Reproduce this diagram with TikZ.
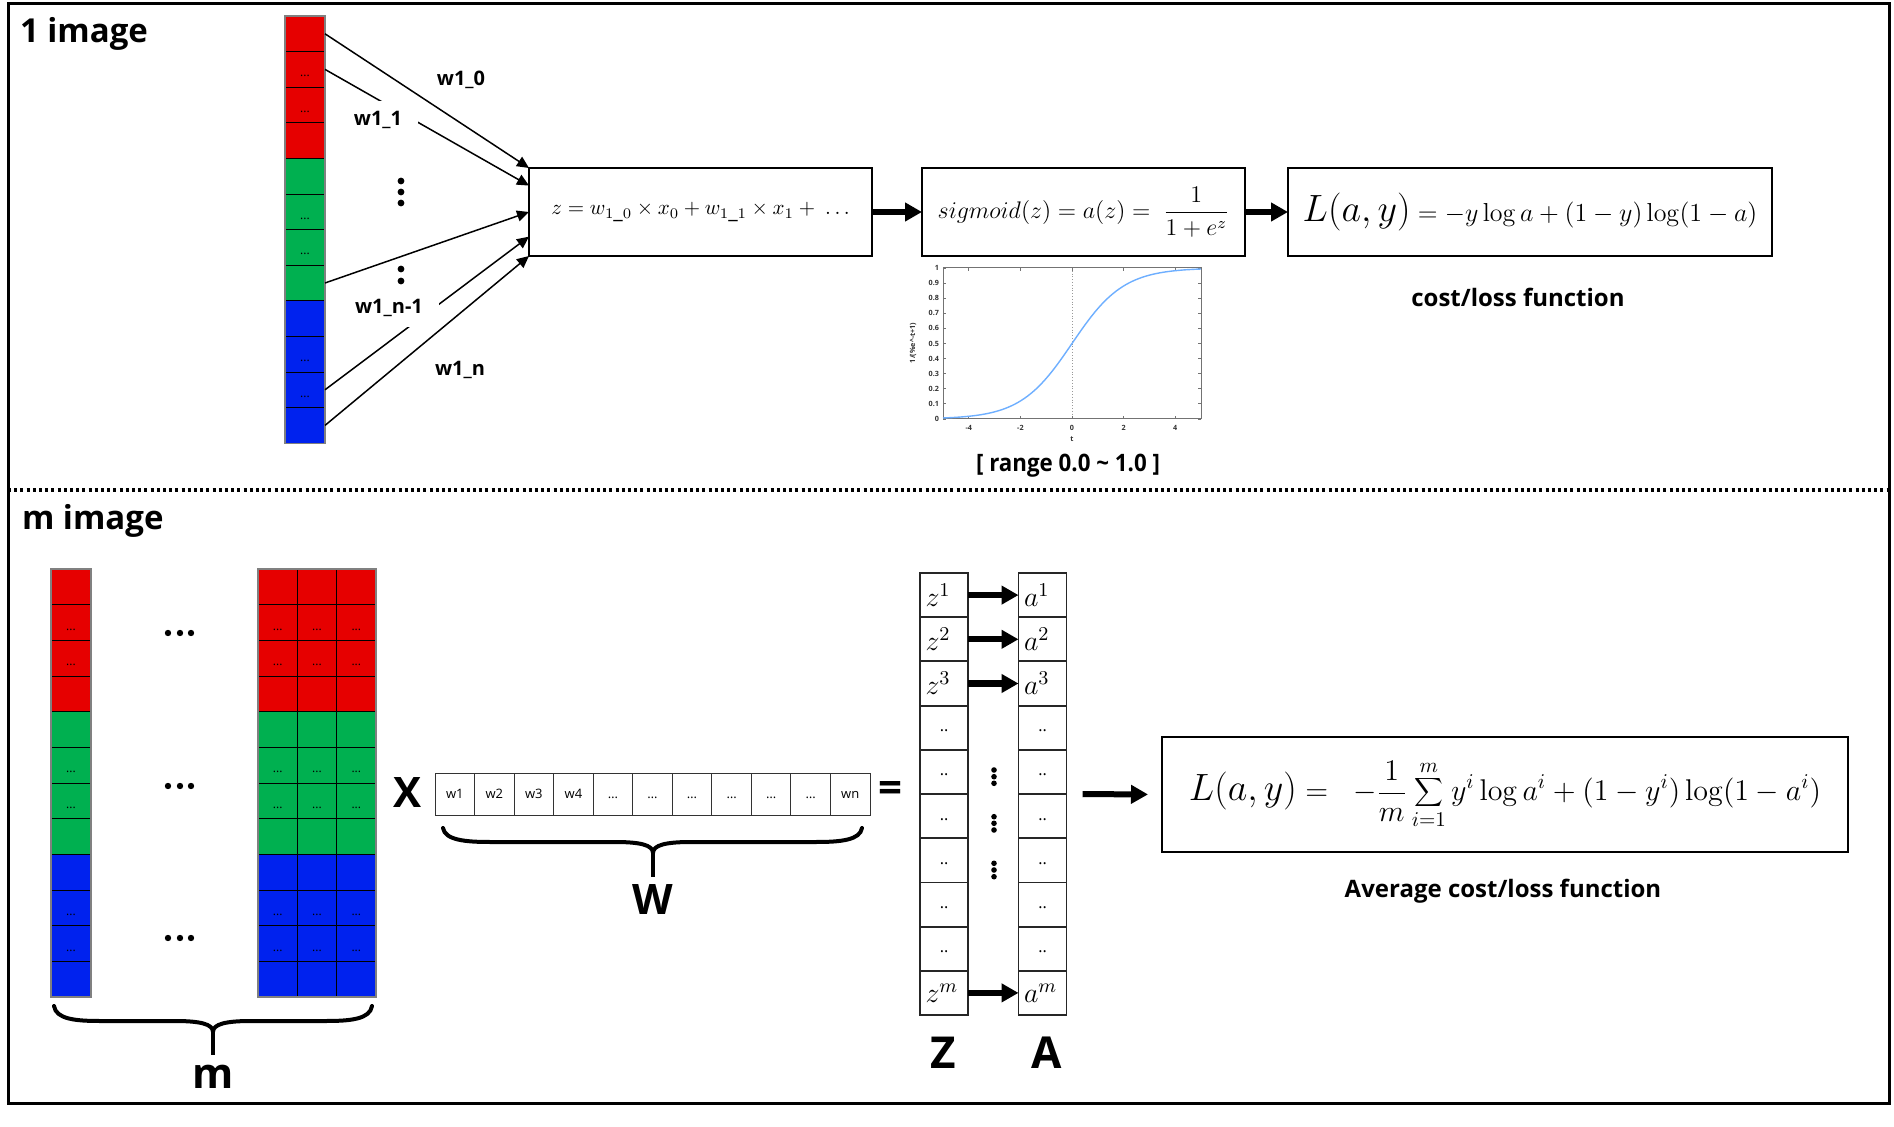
\RequirePackage{fix-cm}
\documentclass[tikz,border=0pt]{standalone}
\usepackage[no-math]{fontspec}
\setmainfont{Open Sans}
\usepackage{graphicx}
\usetikzlibrary{arrows.meta,calc}
\definecolor{cred}{RGB}{230,0,0}
\definecolor{cgreen}{RGB}{0,176,80}
\definecolor{cblue}{RGB}{0,34,238}
\definecolor{curvec}{RGB}{110,175,255}
\begin{document}
\begin{tikzpicture}[x=0.5pt,y=-0.5pt,
  every node/.style={inner sep=0pt, outer sep=0pt},
  cellT/.style={draw=black, line width=0.4pt, minimum width=20pt, minimum height=17.8pt, text height=7.6pt, text depth=0pt, font=\fontsize{6}{6}\selectfont},
  cellR/.style={cellT, minimum width=19.67pt},
  wcell/.style={draw=black!80, line width=0.5pt, minimum width=19.77pt, minimum height=21pt, text height=4.7pt, text depth=0pt, font=\fontsize{6.5}{7}\selectfont},
  zcell/.style={draw=black!85, line width=0.9pt, minimum height=22.1pt, text width=18.5pt, inner xsep=2.75pt, align=left, font=\fontsize{14}{15}\selectfont},
  zdot/.style={draw=black!85, line width=0.9pt, minimum height=22.1pt, minimum width=24pt, text height=4pt, text depth=0pt, font=\fontsize{8}{8}\selectfont},
  eqbox/.style={draw=black, line width=1.3pt, minimum height=44pt},
  titletext/.style={font=\fontsize{16.5}{19}\selectfont\bfseries},
  wlab/.style={font=\fontsize{10}{12}\selectfont\bfseries},
  wlabw/.style={wlab, fill=white, inner xsep=8pt, inner ysep=5pt},
  captiontext/.style={font=\fontsize{12}{14}\selectfont\bfseries},
  bigtext/.style={font=\fontsize{21}{24}\selectfont\bfseries},
  thinarrow/.style={line width=0.75pt, -{Triangle[length=6pt,width=5.5pt]}},
  fatarrow/.style={line width=3pt, -{Triangle[length=8.5pt,width=9pt]}},
  tick/.style={font=\fontsize{3.6}{4}\selectfont\bfseries, text=black!80},
  bracestyle/.style={line width=2pt, line cap=round},
]
\useasboundingbox (0,0) rectangle (1894,1127);
\fill[white] (0,0) rectangle (1894,1127);
\draw[line width=1.5pt] (8,4) rectangle (1889,1103);
\draw[line width=1.6pt, dash pattern=on 1.5pt off 1.6pt] (8,490) -- (1889,490);

% titles
\node[titletext, anchor=base west] (title1) at (20,43) {1 image};
\node[titletext, anchor=base west] (titlem) at (22,530) {m image};

% cells
\foreach \cl [count=\g from 0] in {cred,cgreen,cblue} {
  \foreach \j/\d in {1/{},2/{...},3/{...},4/{}} {
    \pgfmathtruncatemacro\k{4*\g+\j}
    \node[cellT, fill=\cl] (t\k) at (305,{16+35.6*(\k-0.5)}) {\d};
    \node[cellT, fill=\cl] (l\k) at (71,{569+35.67*(\k-0.5)}) {\d};
    \foreach \col [count=\cc] in {277.7,317,356.3} {
      \node[cellR, fill=\cl] (r\cc-\k) at (\col,{569+35.67*(\k-0.5)}) {\d};
    }
  }
}
\draw[black!50, line width=0.6pt] (t1.north west) rectangle (t12.south east);
\draw[black!50, line width=0.6pt] (l1.north west) rectangle (l12.south east);
\draw[black!50, line width=0.6pt] (r1-1.north west) rectangle (r3-12.south east);

% equation boxes (top)
\node[eqbox, minimum width=171.5pt, font=\fontsize{10.5}{13}\selectfont] (box1) at (700.5,212)
  {$z = w_{1\_0}\times x_0 + w_{1\_1}\times x_1 +\ \ldots$};
\node[eqbox, minimum width=161.5pt, font=\fontsize{12}{15}\selectfont] (box2) at (1083.5,212)
  {$\displaystyle sigmoid(z) = a(z) =\ \frac{1}{1+e^z}$};
\node[eqbox, minimum width=242pt] (box3) at (1530,212)
  {{\fontsize{19}{20}\selectfont$L(a,y)$}{\fontsize{13}{15}\selectfont$\;= -y\log a + (1-y)\log(1-a)$}};

% thin arrows
\draw[thinarrow] (t1.east) -- (box1.north west);
\draw[thinarrow] (t2.east) -- ($(box1.north west)!0.2!(box1.south west)$);
\draw[thinarrow] (t8.east) -- (box1.west);
\draw[thinarrow] (t11.east) -- ($(box1.north west)!0.78!(box1.south west)$);
\draw[thinarrow] (t12.east) -- (box1.south west);

\node[wlab] (w10) at (461,80) {w1\_0};
\node[wlabw] (w11) at (378,120) {w1\_1};
\node[wlabw] (w1n1) at (389,308) {w1\_n-1};
\node[wlab] (w1n) at (460,370) {w1\_n};

\foreach \yy in {181,192,203,269,281} \fill (401,\yy) circle[radius=1.7pt];

% thick arrows top
\draw[fatarrow] (box1.east) -- (box2.west);
\draw[fatarrow] (box2.east) -- (box3.west);

\node[captiontext] (cost1) at (1518,297) {cost/loss function};

% sigmoid plot
\draw[black!55, line width=0.5pt] (943,268) rectangle (1201,419);
\draw[black!40, densely dotted, line width=0.4pt] (1072,268) -- (1072,419);
\foreach \t in {-4,-2,0,2,4} {
  \draw[black!55, line width=0.4pt] ({1072+25.8*\t},419) -- ++(0,-3) ({1072+25.8*\t},268) -- ++(0,3);
  \node[tick] (xt\t) at ({1072+25.8*\t},428) {\t};
}
\foreach \v/\s in {0/0,1/0.1,2/0.2,3/0.3,4/0.4,5/0.5,6/0.6,7/0.7,8/0.8,9/0.9,10/1} {
  \draw[black!55, line width=0.4pt] (943,{419-15.1*\v}) -- ++(3,0) (1201,{419-15.1*\v}) -- ++(-3,0);
  \node[tick, anchor=east] (yt\v) at (939,{419-15.1*\v}) {\s};
}
\node[tick] (tlab) at (1072,439) {t};
\node[tick, rotate=90] (ylab) at (913,343) {1/(\%e\textasciicircum-t+1)};
\draw[curvec, line width=0.7pt, domain=-5:5, samples=80, smooth] plot ({1072+25.8*\x},{419-151/(1+exp(-\x))});
\node[captiontext] (range) at (1068,466) {\scalebox{0.93}[1]{[ range 0.0 \textasciitilde{} 1.0 ]}};

% bottom: dots between columns
\foreach \yy in {633,786,938} \foreach \xx in {168,180,191} \fill (\xx,\yy) circle[radius=1.6pt];

% brace m
\draw[bracestyle] (54,1006) .. controls (56,1019) and (75,1021) .. (100,1021) -- (175,1021)
  .. controls (200,1021) and (213,1024) .. (213,1032) .. controls (213,1024) and (226,1021) .. (251,1021)
  -- (326,1021) .. controls (351,1021) and (370,1019) .. (372,1006);
\draw[line width=2pt] (213,1030) -- (213,1055);
\node[bigtext] (mlab) at (213,1077) {m};

\node[bigtext] (xsym) at (408,793) {X};

% W vector
\foreach \lab [count=\i] in {w1,w2,w3,w4,…,…,…,…,…,…,wn}
  \node[wcell] (w\i) at ({435+39.55*(\i-0.5)},794) {\lab};
\draw[bracestyle] (443,828) .. controls (445,840) and (465,842) .. (490,842) -- (615,842)
  .. controls (640,842) and (653,845) .. (653,853) .. controls (653,845) and (666,842) .. (691,842)
  -- (816,842) .. controls (841,842) and (860,840) .. (862,828);
\draw[line width=2pt] (653,851) -- (653,877);
\node[bigtext] (Wlab) at (653,900) {W};

\node[bigtext] (eqsym) at (890,792) {=};

% Z and A columns
\foreach \i/\s in {1/1,2/2,3/3,10/m} {
  \node[zcell] (z\i) at (944,{573+44.2*(\i-0.5)}) {$z^{\s}$};
  \node[zcell] (a\i) at (1042.5,{573+44.2*(\i-0.5)}) {$a^{\s}$};
}
\foreach \i in {4,...,9} {
  \node[zdot] (z\i) at (944,{573+44.2*(\i-0.5)}) {..};
  \node[zdot] (a\i) at (1042.5,{573+44.2*(\i-0.5)}) {..};
}
\foreach \i in {1,2,3,10} \draw[fatarrow, line width=3.2pt] (z\i.east) -- (a\i.west);
\foreach \yy in {770,776.7,783.3,816.7,823.3,830,863.3,870,876.7} \fill (994,\yy) circle[radius=1.4pt];
\node[bigtext, font=\fontsize{22}{24}\selectfont\bfseries] (Zlab) at (943,1053) {Z};
\node[bigtext, font=\fontsize{22}{24}\selectfont\bfseries] (Alab) at (1047,1053) {A};

% big box
\node[draw=black, line width=1.3pt, minimum width=343pt, minimum height=57.5pt] (bigbox) at (1505,794.5)
  {{\fontsize{19}{20}\selectfont$L(a,y)$}{\fontsize{15}{18}\selectfont$\displaystyle\;=\;\;-\frac{1}{m}\sum_{i=1}^{m} y^i\log a^i + \bigl(1-y^i\bigr)\log(1-a^i)$}};
\draw[fatarrow, shorten <=8pt, shorten >=7pt] (a5.south east) -- (bigbox.west);
\node[captiontext] (cost2) at (1503,891) {Average cost/loss function};
\end{tikzpicture}
\end{document}
